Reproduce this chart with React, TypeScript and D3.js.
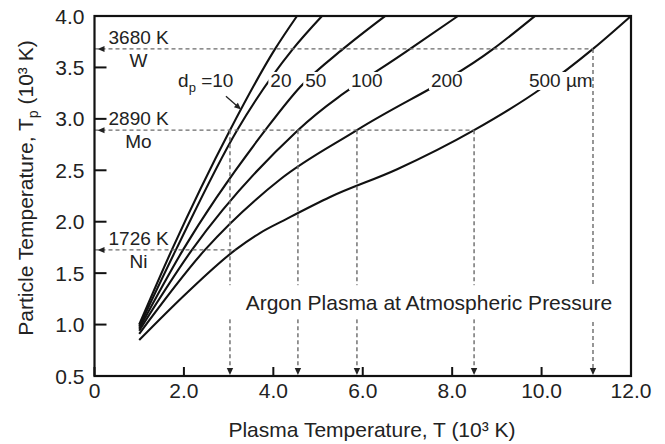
import React from "react";
import * as d3 from "d3";

const WIDTH = 665;
const HEIGHT = 444;
const FONT = "'Liberation Sans', Arial, Helvetica, sans-serif";

// Heating curves: plasma temperature T (10³ K) -> particle temperature Tp (10³ K)
const diameters = ["10", "20", "50", "100", "200", "500"];
const plasmaT10 = [1.0, 1.73, 3.03, 4.04, 4.53];
const particleT10 = [1.0, 1.726, 2.89, 3.68, 4.0];
const plasmaT20 = [1.0, 1.82, 3.19, 4.44, 5.09];
const particleT20 = [0.98, 1.726, 2.89, 3.68, 4.0];
const plasmaT50 = [1.0, 1.98, 3.82, 4.6, 5.56, 6.5];
const particleT50 = [0.96, 1.726, 2.89, 3.31, 3.68, 4.0];
const plasmaT100 = [1.0, 2.18, 4.55, 7.06, 8.13];
const particleT100 = [0.94, 1.726, 2.89, 3.68, 4.0];
const plasmaT200 = [1.0, 2.47, 4.15, 5.87, 8.92, 9.85];
const particleT200 = [0.91, 1.726, 2.41, 2.89, 3.68, 4.0];
const plasmaT500 = [1.0, 2.07, 3.15, 3.7, 4.31, 5.27, 6.77, 8.49, 10.01, 11.15, 12.0];
const particleT500 = [0.85, 1.31, 1.726, 1.89, 2.03, 2.24, 2.51, 2.89, 3.3, 3.68, 4.0];

// Melting points of the metals
const metals = ["W", "Mo", "Ni"];
const meltingK = [3680, 2890, 1726];
const meltGuideEndT = [11.15, 8.49, 3.15];

// Plasma temperatures where a curve reaches a melting point
const dropT = [3.03, 4.55, 5.87, 8.49, 11.15];
const dropMetal = ["Mo", "Mo", "Mo", "Mo", "W"];

const xTicks = [0, 2, 4, 6, 8, 10, 12];
const xTickLabels = ["0", "2.0", "4.0", "6.0", "8.0", "10.0", "12.0"];
const yTicks = [0.5, 1.0, 1.5, 2.0, 2.5, 3.0, 3.5, 4.0];
const yTickLabels = ["0.5", "1.0", "1.5", "2.0", "2.5", "3.0", "3.5", "4.0"];

const curveTable = [
  { d: diameters[0], T: plasmaT10, Tp: particleT10 },
  { d: diameters[1], T: plasmaT20, Tp: particleT20 },
  { d: diameters[2], T: plasmaT50, Tp: particleT50 },
  { d: diameters[3], T: plasmaT100, Tp: particleT100 },
  { d: diameters[4], T: plasmaT200, Tp: particleT200 },
  { d: diameters[5], T: plasmaT500, Tp: particleT500 },
];

// where the diameter labels sit (plasma T, particle Tp of the baseline)
const curveLabelAt: Record<string, [number, number]> = {
  "20": [4.17, 3.31],
  "50": [4.95, 3.31],
  "100": [6.09, 3.31],
  "200": [7.88, 3.31],
  "500": [10.43, 3.31],
};

const charW: Record<string, number> = { " ": 0.278, "µ": 0.576, m: 0.833 };
const textWidth = (s: string, size: number) =>
  s.split("").reduce((a, c) => a + (charW[c] ?? 0.556), 0) * size;

export default function App() {
  const x = d3.scaleLinear().domain([0, 12]).range([94.5, 631]);
  const y = d3.scaleLinear().domain([0.5, 4]).range([376, 16]);
  const line = d3
    .line<[number, number]>()
    .x((d) => x(d[0]))
    .y((d) => y(d[1]))
    .curve(d3.curveMonotoneX);

  const dash = { stroke: "#6a6a6a", strokeWidth: 1.4, strokeDasharray: "4 3" };
  const meltY = (m: string) => meltingK[metals.indexOf(m)] / 1000;

  const labelSize = 19;
  const curveLabels = diameters.slice(1).map((d) => {
    const text = d === "500" ? "500 µm" : d;
    const [lt, lp] = curveLabelAt[d];
    const w = textWidth(text, labelSize);
    return { text, cx: x(lt), by: y(lp), w };
  });

  const argon = "Argon Plasma at Atmospheric Pressure";
  const argonX = x(7.48);
  const argonBase = y(1.14);

  // arrow pointing at the 10 µm curve
  const a0: [number, number] = [x(2.94), y(3.22)];
  const a1: [number, number] = [x(3.28), y(3.09)];
  const ang = Math.atan2(a1[1] - a0[1], a1[0] - a0[0]);
  const head = (tip: [number, number], angle: number, len = 7, half = 3) => {
    const bx = tip[0] - len * Math.cos(angle);
    const by = tip[1] - len * Math.sin(angle);
    const px = -Math.sin(angle) * half;
    const py = Math.cos(angle) * half;
    return `${tip[0]},${tip[1]} ${bx + px},${by + py} ${bx - px},${by - py}`;
  };

  return (
    <svg
      width={WIDTH}
      height={HEIGHT}
      style={{ position: "absolute", left: 0, top: 0, background: "#fff" }}
      fontFamily={FONT}
    >
      <rect width={WIDTH} height={HEIGHT} fill="#fff" />

      {/* heating curves */}
      {curveTable.map((c) => (
        <path
          key={c.d}
          d={line(c.T.map((t, i) => [t, c.Tp[i]] as [number, number])) || ""}
          fill="none"
          stroke="#111"
          strokeWidth={2.1}
        />
      ))}

      {/* clear space behind the diameter labels */}
      {curveLabels.map((l) => (
        <rect
          key={"bg" + l.text}
          x={l.cx - l.w / 2 - 2}
          y={l.by - 15}
          width={l.w + 4}
          height={18}
          fill="#fff"
        />
      ))}

      {/* melting point guides */}
      {metals.map((m, i) => (
        <line
          key={"h" + m}
          x1={x(0)}
          x2={x(meltGuideEndT[i])}
          y1={y(meltingK[i] / 1000)}
          y2={y(meltingK[i] / 1000)}
          {...dash}
        />
      ))}
      {dropT.map((t, i) => (
        <line
          key={"v" + i}
          x1={x(t)}
          x2={x(t)}
          y1={y(meltY(dropMetal[i]))}
          y2={y(0.5) - 6}
          {...dash}
        />
      ))}
      {metals.map((m, i) => (
        <polygon
          key={"ah" + m}
          points={head([x(0) + 3, y(meltingK[i] / 1000)], Math.PI, 7, 3)}
          fill="#222"
        />
      ))}
      {dropT.map((t, i) => (
        <polygon
          key={"av" + i}
          points={head([x(t), y(0.5) - 1], Math.PI / 2, 7, 3.2)}
          fill="#222"
        />
      ))}

      {/* caption across the drop lines */}
      <rect
        x={argonX - textWidth(argon, 21) / 2 - 6}
        y={argonBase - 25}
        width={textWidth(argon, 21) * 0.95 + 12}
        height={34}
        fill="#fff"
      />
      <text x={argonX} y={argonBase} fontSize={21} textAnchor="middle" fill="#222">
        {argon}
      </text>

      {/* frame and axes */}
      <rect
        x={x(0)}
        y={y(4)}
        width={x(12) - x(0)}
        height={y(0.5) - y(4)}
        fill="none"
        stroke="#111"
        strokeWidth={2.2}
      />
      {yTicks.map((t) => (
        <line key={"yt" + t} x1={x(0)} x2={x(0) + 12} y1={y(t)} y2={y(t)} stroke="#111" strokeWidth={2} />
      ))}
      {xTicks.map((t) => (
        <line key={"xt" + t} x1={x(t)} x2={x(t)} y1={y(0.5)} y2={y(0.5) - 9} stroke="#111" strokeWidth={2} />
      ))}
      {yTicks.map((t, i) => (
        <text key={"yl" + t} x={x(0) - 10} y={y(t)} dy="0.36em" fontSize={21} textAnchor="end" fill="#222">
          {yTickLabels[i]}
        </text>
      ))}
      {xTicks.map((t, i) => (
        <text key={"xl" + t} x={x(t)} y={y(0.5) + 22} fontSize={21} textAnchor="middle" fill="#222">
          {xTickLabels[i]}
        </text>
      ))}

      {/* axis titles */}
      <text x={372} y={437} fontSize={21} textAnchor="middle" fill="#222">
        Plasma Temperature, T (10³ K)
      </text>
      <text transform="translate(33,188) rotate(-90)" fontSize={21} textAnchor="middle" fill="#222">
        Particle Temperature, T
        <tspan fontSize={14} dy={5}>p</tspan>
        <tspan dy={-5}> (10³ K)</tspan>
      </text>

      {/* melting point annotations */}
      {metals.map((m, i) => {
        const yy = y(meltingK[i] / 1000);
        return (
          <g key={"ma" + m} fontSize={labelSize} fill="#222">
            <text x={x(0) + 14} y={yy - 5}>{`${meltingK[i]} K`}</text>
            <text x={x(0) + 44} y={yy + 18} textAnchor="middle">{m}</text>
          </g>
        );
      })}

      {/* diameter labels */}
      {curveLabels.map((l) => (
        <text key={"cl" + l.text} x={l.cx} y={l.by} fontSize={labelSize} textAnchor="middle" fill="#222">
          {l.text}
        </text>
      ))}
      <text x={x(1.87)} y={y(3.31)} fontSize={labelSize} fill="#222">
        d<tspan fontSize={13} dy={5}>p</tspan>
        <tspan dy={-5}> =10</tspan>
      </text>
      <line x1={a0[0]} y1={a0[1]} x2={a1[0] - 5 * Math.cos(ang)} y2={a1[1] - 5 * Math.sin(ang)} stroke="#222" strokeWidth={1.3} />
      <polygon points={head(a1, ang, 7, 3)} fill="#222" />
    </svg>
  );
}
